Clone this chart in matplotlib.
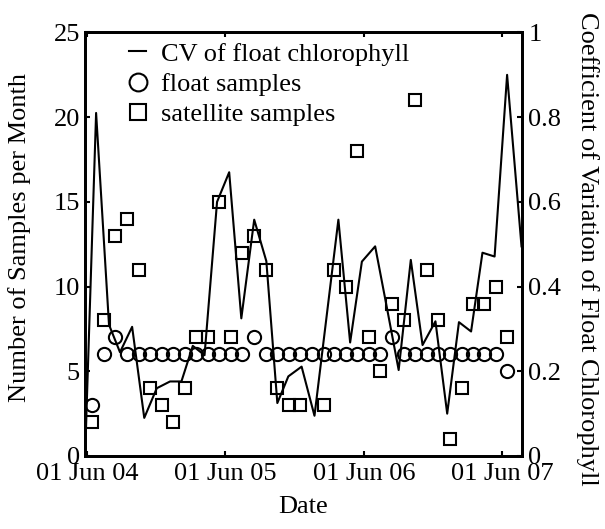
import matplotlib
matplotlib.use("Agg")
import matplotlib.pyplot as plt
import matplotlib.dates as mdates
import numpy as np
import pandas as pd

plt.rcParams["font.family"] = ["Liberation Serif", "DejaVu Serif"]
plt.rcParams["font.size"] = 19

# Monthly sample counts (plotted mid-month), June 2004 - June 2007
sample_months = pd.date_range("2004-06-01", periods=37, freq="MS") + pd.Timedelta(days=14)
float_samples = [3, 6, 7, 6, 6, 6, 6, 6, 6, 6, 6, 6, 6, 6, 7, 6, 6, 6, 6, 6,
                 6, 6, 6, 6, 6, 6, 7, 6, 6, 6, 6, 6, 6, 6, 6, 6, 5]
satellite_samples = [2, 8, 13, 14, 11, 4, 3, 2, 4, 7, 7, 15, 7, 12, 13, 11, 4, 3, 3, np.nan,
                     3, 11, 10, 18, 7, 5, 9, 8, 21, 11, 8, 1, 4, 9, 9, 10, 7]

# Coefficient of variation of float chlorophyll
cv_dates = pd.to_datetime([
    "2004-05-28", "2004-06-25", "2004-07-29", "2004-08-27", "2004-09-28", "2004-10-30",
    "2004-12-02", "2005-01-06", "2005-02-05", "2005-03-07", "2005-04-07", "2005-05-10",
    "2005-06-11", "2005-07-13", "2005-08-16", "2005-09-17", "2005-10-16", "2005-11-14",
    "2005-12-19", "2006-01-22", "2006-02-23", "2006-03-26", "2006-04-26", "2006-05-27",
    "2006-07-01", "2006-08-01", "2006-09-01", "2006-10-03", "2006-11-03", "2006-12-07",
    "2007-01-07", "2007-02-07", "2007-03-11", "2007-04-10", "2007-05-12", "2007-06-14",
    "2007-07-22"])
cv_float = [0.03, 0.81, 0.31, 0.245, 0.305, 0.09, 0.16, 0.176, 0.176, 0.26, 0.238, 0.60,
            0.67, 0.325, 0.558, 0.46, 0.125, 0.188, 0.211, 0.095, 0.33, 0.558, 0.268, 0.459,
            0.495, 0.35, 0.203, 0.463, 0.262, 0.318, 0.10, 0.316, 0.294, 0.48, 0.471, 0.90,
            0.495]

left_ticks = [0, 5, 10, 15, 20, 25]
right_ticks = [0, 0.2, 0.4, 0.6, 0.8, 1]
right_tick_labels = ["0", "0.2", "0.4", "0.6", "0.8", "1"]
date_ticks = pd.to_datetime(["2004-06-01", "2005-06-01", "2006-06-01", "2007-06-01"])

fig = plt.figure(figsize=(6.05, 5.29), dpi=100)
ax = fig.add_axes([0.1413, 0.138, 0.7207, 0.8006])
ax2 = ax.twinx()

mk = dict(linestyle="none", markerfacecolor="none", markeredgecolor="black",
          markeredgewidth=1.5)
h_float, = ax.plot(sample_months, float_samples, marker="o", markersize=9.5, **mk,
                   label="float samples")
h_sat, = ax.plot(sample_months, satellite_samples, marker="s", markersize=8.5, **mk,
                 label="satellite samples")
h_cv, = ax2.plot(cv_dates, cv_float, color="black", linewidth=1.5,
                 label="CV of float chlorophyll")

ax.set_xlim(cv_dates[0], cv_dates[-1])
ax.set_ylim(0, 25)
ax2.set_ylim(0, 1)
ax.set_yticks(left_ticks)
ax2.set_yticks(right_ticks)
ax2.set_yticklabels(right_tick_labels)
ax.set_xticks(date_ticks)
ax.xaxis.set_major_formatter(mdates.DateFormatter("%d %b %y"))

for a in (ax, ax2):
    for s in a.spines.values():
        s.set_linewidth(2.0)
ax.tick_params(axis="x", direction="in", length=3.5, width=1.5, top=True, pad=5)
ax.tick_params(axis="y", direction="in", length=3.5, width=1.5, left=True, right=False, pad=4)
ax2.tick_params(axis="y", direction="in", length=3.5, width=1.5, right=True, left=False, pad=5)

ax.set_xlabel("Date", labelpad=8)
ax.set_ylabel("Number of Samples per Month")
ax.yaxis.set_label_coords(-0.125, 0.515)
ax2.set_ylabel("Coefficient of Variation of Float Chlorophyll", rotation=270, va="bottom")
ax2.yaxis.set_label_coords(1.126, 0.49)

ax2.legend(handles=[h_cv, h_float, h_sat], loc="upper left", bbox_to_anchor=(0.1, 0.977),
           frameon=False, borderpad=0, borderaxespad=0, handlelength=0.65,
           handletextpad=0.55, labelspacing=0.25, markerscale=1.35, numpoints=1)

fig.savefig("out.png", dpi=100)
